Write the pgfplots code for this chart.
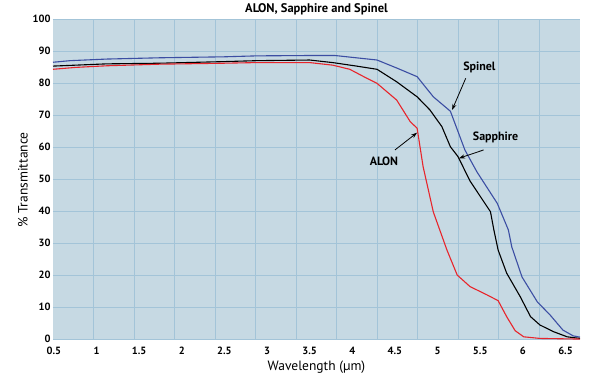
\documentclass[border=0pt]{standalone}
\usepackage{fontspec}
\setmainfont{PT Sans}
\usepackage{pgfplots}
\pgfplotsset{compat=1.18}
\usetikzlibrary{arrows.meta}
\definecolor{bgc}{HTML}{C6D9E3}
\definecolor{gridc}{HTML}{A3C4D8}
\definecolor{spinel}{HTML}{3C4EA3}
\definecolor{alon}{HTML}{E8252B}
\begin{document}
\begin{tikzpicture}
\begin{axis}[
  at={(0,0)}, anchor=south west,
  scale only axis, width=527pt, height=320pt,
  xmin=0.49, xmax=6.67, ymin=0, ymax=100,
  xtick={0.5,1,...,6.5},
  xticklabels={0.5,1,1.5,2,2.5,3,3.5,4,4.5,5,5.5,6,6.5},
  ytick={0,10,...,100},
  major tick length=0pt,
  axis line style={draw=none},
  axis background/.style={fill=bgc},
  ymajorgrids,
  grid style={gridc, line width=0.9pt},
  extra x ticks={0.965,1.441,1.916,2.392,2.867,3.342,3.818,4.293,4.769,5.244,5.719,6.195},
  extra x tick labels={},
  extra x tick style={grid=major, major tick length=0pt},
  /pgf/number format/assume math mode=true,
  ticklabel style={font=\bfseries\fontsize{10.5}{11}\selectfont},
  xticklabel style={yshift=-4pt},
  yticklabel style={xshift=1pt, yshift=1pt},
  xlabel={Wavelength (µm)},
  ylabel={\% Transmittance},
  label style={font=\fontsize{13.5}{14}\selectfont},
  xlabel style={yshift=1pt},
  ylabel style={yshift=-2pt},
  title={ALON, Sapphire and Spinel},
  title style={font=\bfseries\fontsize{12.5}{13}\selectfont, yshift=-5pt},
  clip=true,
]
% Spinel
\addplot[spinel, line width=1.1pt] coordinates {
(0.49,86.7)(0.69,87.2)(1.12,87.7)(1.74,88.1)(2.49,88.4)(2.88,88.7)(3.45,88.8)(3.80,88.8)
(4.29,87.4)(4.53,84.8)(4.76,82.2)(4.95,75.9)(5.15,71.4)(5.32,59.3)(5.46,52.5)(5.70,42.6)
(5.83,34.3)(5.87,29.0)(5.99,19.6)(6.17,11.8)(6.32,7.7)(6.47,3.0)(6.59,1.2)(6.67,0.8)};
% Sapphire
\addplot[black, line width=1.1pt] coordinates {
(0.49,85.5)(0.76,85.8)(1.12,86.2)(1.74,86.4)(2.49,86.9)(2.88,87.2)(3.50,87.4)(3.77,86.6)
(4.05,85.5)(4.29,84.5)(4.52,80.6)(4.76,75.9)(4.91,71.8)(5.05,66.6)(5.15,60.3)(5.24,57.2)
(5.38,49.6)(5.62,40.0)(5.66,34.3)(5.71,28.0)(5.81,20.8)(5.97,13.4)(6.09,7.2)(6.20,4.6)
(6.36,2.5)(6.52,0.9)(6.67,0.4)};
% ALON
\addplot[alon, line width=1.1pt] coordinates {
(0.49,84.5)(0.76,85.1)(1.12,85.6)(1.74,86.1)(2.49,86.4)(2.88,86.6)(3.50,86.6)(3.77,85.8)
(3.97,84.5)(4.17,81.7)(4.29,80.1)(4.52,74.9)(4.68,68.1)(4.76,66.1)(4.83,54.1)(4.95,39.9)
(5.11,28.0)(5.23,20.2)(5.38,16.6)(5.58,14.0)(5.71,12.2)(5.81,7.2)(5.91,2.8)(6.01,0.9)
(6.20,0.4)(6.67,0.2)};
\draw[-{Stealth[length=6pt,width=4pt]}, line width=0.8pt] (axis cs:5.33,81.7) -- (axis cs:5.17,71.8);
\draw[-{Stealth[length=6pt,width=4pt]}, line width=0.8pt] (axis cs:5.54,59.3) -- (axis cs:5.25,56.7);
\draw[-{Stealth[length=6pt,width=4pt]}, line width=0.8pt] (axis cs:4.50,59.3) -- (axis cs:4.76,64.7);
\node[font=\bfseries\fontsize{12}{13}\selectfont] at (axis cs:5.49,85.1) {Spinel};
\node[font=\bfseries\fontsize{12}{13}\selectfont] at (axis cs:5.68,63.1) {Sapphire};
\node[font=\bfseries\fontsize{12}{13}\selectfont] at (axis cs:4.37,55.9) {ALON};
\end{axis}
\pgfresetboundingbox
\path[use as bounding box] (-53pt,-36.3pt) rectangle (547pt,339.7pt);
\end{tikzpicture}
\end{document}
